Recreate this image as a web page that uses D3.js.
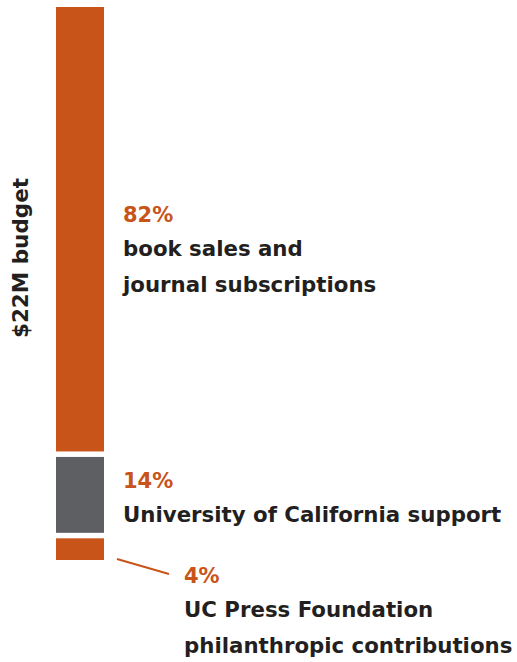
<!DOCTYPE html>
<html><head><meta charset="utf-8">
<script src="https://cdn.jsdelivr.net/npm/d3@7"></script>
<style>html,body{margin:0;padding:0;background:#fff;}</style>
</head><body>
<svg id="c" width="517" height="662"></svg>
<script>
const categories = ["Book sales and journal subscriptions", "University of California support", "UC Press Foundation philanthropic contributions"];
const values = [82, 14, 4];
const percentLabels = ["82%", "14%", "4%"];
const descLines = [["book sales and", "journal subscriptions"], ["University of California support"], ["UC Press Foundation", "philanthropic contributions"]];
const colors = ["#C8541A", "#5D5F62", "#C8541A"];
const axisTitle = "$22M budget";

(function () {
const svg = d3.select("#c");
const font = "'DejaVu Sans', sans-serif";
const gap = 5.5;
const barTop = 7, barBottom = 560;
const total = d3.sum(values);
const y = d3.scaleLinear().domain([0, total]).range([0, barBottom - barTop - gap * (values.length - 1)]);
const x0 = 56, bw = 48;

let acc = 0;
const segs = values.map((v, i) => {
  const s = {i, v, y0: barTop + y(acc) + gap * i, h: y(v)};
  acc += v; return s;
});

svg.selectAll("rect.seg").data(segs).join("rect")
  .attr("x", x0).attr("width", bw)
  .attr("y", d => d.y0).attr("height", d => d.h)
  .attr("fill", d => colors[d.i]);

const labelX = [123, 123, 184];
const pctBaseline = [222, 487.5, 583];
const lineH = 35;

const g = svg.append("g").attr("font-family", font).attr("font-weight", 700);
segs.forEach((s, i) => {
  g.append("text").attr("x", labelX[i]).attr("y", pctBaseline[i])
    .attr("font-size", 21).attr("fill", colors[0]).text(percentLabels[i]);
  descLines[i].forEach((ln, j) => {
    g.append("text").attr("x", labelX[i]).attr("y", pctBaseline[i] + 34 + j * (lineH + 1))
      .attr("font-size", 21.3).attr("fill", "#231F20").text(ln);
  });
});

const last = segs[2];
svg.append("line")
  .attr("x1", x0 + bw + 13).attr("y1", last.y0 + last.h - 1)
  .attr("x2", 169).attr("y2", 574)
  .attr("stroke", colors[2]).attr("stroke-width", 2);

svg.append("text")
  .attr("transform", `translate(28,258) rotate(-90)`)
  .attr("text-anchor", "middle")
  .attr("font-family", font).attr("font-weight", 700).attr("font-size", 21.5)
  .attr("fill", "#231F20").text(axisTitle);
})();
</script>
</body></html>
